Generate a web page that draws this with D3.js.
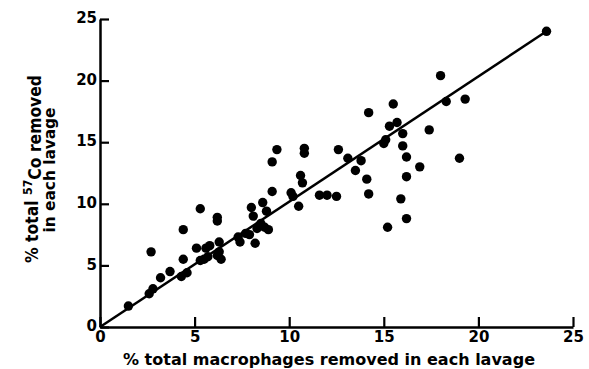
<!DOCTYPE html>
<html>
<head>
<meta charset="utf-8">
<script src="https://cdn.jsdelivr.net/npm/d3@7"></script>
<style>
  body { margin: 0; background: #fff; }
  svg { display: block; }
  text { font-family: "DejaVu Sans", sans-serif; font-weight: bold; fill: #000; }
</style>
</head>
<body>
<div id="chart"></div>
<script>
// % total macrophages removed (x) vs % total 57Co removed (y), one point per lavage
const macrophages = [1.5, 2.6, 2.8, 2.7, 3.2, 3.7, 4.3, 4.6, 4.4, 4.4, 5.1, 5.3, 5.3, 5.5, 5.6, 5.8,
  5.7, 6.2, 6.2, 6.3, 6.2, 6.4, 6.3, 7.3, 7.4, 7.7, 7.9, 8.0, 8.1, 8.6, 8.8, 8.2, 8.3, 8.5, 8.7,
  8.9, 9.1, 9.1, 9.35, 10.1, 10.2, 10.5, 10.6, 10.7, 10.8, 10.8, 11.6, 12.0, 12.5, 12.6, 13.1,
  13.5, 13.8, 14.1, 14.2, 14.2, 15.0, 15.1, 15.2, 15.3, 15.5, 15.7, 15.9, 16.0, 16.0, 16.2, 16.2,
  16.2, 16.9, 17.4, 18.0, 18.3, 19.0, 19.3, 23.6];
const cobalt = [1.7, 2.7, 3.1, 6.1, 4.0, 4.5, 4.1, 4.4, 5.5, 7.9, 6.4, 9.6, 5.4, 5.5, 6.4, 6.6,
  5.7, 8.9, 8.6, 6.9, 5.8, 5.5, 6.1, 7.3, 6.9, 7.6, 7.5, 9.7, 9.0, 10.1, 9.4, 6.8, 8.0, 8.4, 8.1,
  7.9, 11.0, 13.4, 14.4, 10.9, 10.6, 9.8, 12.3, 11.7, 14.5, 14.1, 10.7, 10.7, 10.6, 14.4, 13.7,
  12.7, 13.5, 12.0, 10.8, 17.4, 14.9, 15.2, 8.1, 16.3, 18.1, 16.6, 10.4, 15.7, 14.7, 13.8, 12.2,
  8.8, 13.0, 16.0, 20.4, 18.3, 13.7, 18.5, 24.0];
const fitX = [0, 23.6];
const fitY = [0, 24.0];
const xTicks = [0, 5, 10, 15, 20, 25];
const yTicks = [0, 5, 10, 15, 20, 25];

const W = 589, H = 369;
const margin = { top: 19, right: 16, bottom: 42, left: 100 };
const width = W - margin.left - margin.right;
const height = H - margin.top - margin.bottom;

const svg = d3.select('#chart')
  .append('svg')
  .attr('width', W)
  .attr('height', H)
  .append('g')
  .attr('transform', `translate(${margin.left},${margin.top})`);

const x = d3.scaleLinear().domain([0, 25]).range([0, width]);
const y = d3.scaleLinear().domain([0, 25]).range([height, 0]);

// axes with ticks pointing into the plot
const xAxis = svg.append('g')
  .attr('transform', `translate(0,${height})`)
  .call(d3.axisBottom(x).tickValues(xTicks).tickSizeInner(-10).tickSizeOuter(0).tickPadding(4));

const yAxis = svg.append('g')
  .call(d3.axisLeft(y).tickValues(yTicks).tickSizeInner(-9).tickSizeOuter(0).tickPadding(3));

[xAxis, yAxis].forEach(a => {
  a.select('.domain').attr('stroke', '#000').attr('stroke-width', 2.5);
  a.selectAll('.tick line').attr('stroke', '#000').attr('stroke-width', 2.2);
  a.selectAll('.tick text')
    .style('font-family', '"DejaVu Sans", sans-serif')
    .style('font-weight', 'bold')
    .style('font-size', '15px')
    .attr('fill', '#000');
});
yAxis.selectAll('.tick text').attr('dy', '0.25em');

// fitted line
const pts = macrophages.map((d, i) => ({ x: d, y: cobalt[i] }));
svg.append('path')
  .datum(fitX.map((d, i) => ({ x: d, y: fitY[i] })))
  .attr('d', d3.line().x(d => x(d.x)).y(d => y(d.y)))
  .attr('stroke', '#000')
  .attr('stroke-width', 2.5)
  .attr('fill', 'none');

svg.append('g')
  .selectAll('circle')
  .data(pts)
  .enter()
  .append('circle')
  .attr('cx', d => x(d.x))
  .attr('cy', d => y(d.y))
  .attr('r', 4.7)
  .attr('fill', '#000');

// x caption
svg.append('text')
  .attr('x', 229)
  .attr('y', height + 38)
  .attr('text-anchor', 'middle')
  .attr('textLength', 412)
  .attr('lengthAdjust', 'spacingAndGlyphs')
  .style('font-size', '15.5px')
  .text('% total  macrophages removed in each lavage');

// y caption, two lines
const yCap = svg.append('text')
  .attr('transform', `translate(${-62},${150}) rotate(-90)`)
  .attr('text-anchor', 'middle')
  .attr('textLength', 188)
  .attr('lengthAdjust', 'spacingAndGlyphs')
  .style('font-size', '17px');
yCap.append('tspan').text('% total  ');
yCap.append('tspan').attr('dy', '-0.5em').style('font-size', '12px').text('57');
yCap.append('tspan').attr('dy', '0.5em').text('Co removed');

svg.append('text')
  .attr('transform', `translate(${-45},${151}) rotate(-90)`)
  .attr('text-anchor', 'middle')
  .attr('textLength', 125)
  .attr('lengthAdjust', 'spacingAndGlyphs')
  .style('font-size', '16px')
  .text('in each lavage');
</script>
</body>
</html>
